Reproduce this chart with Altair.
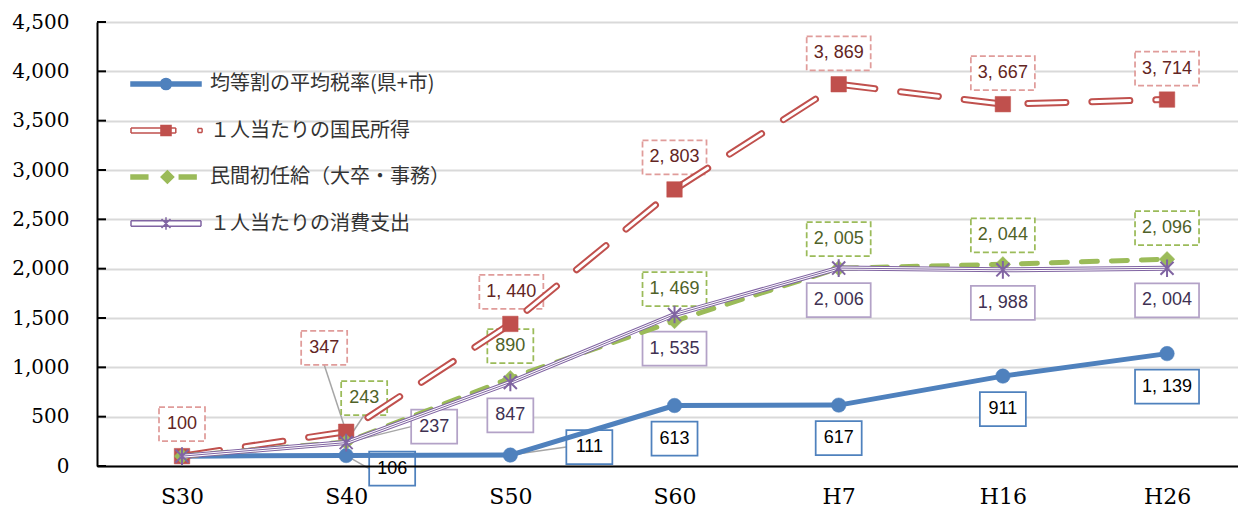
import altair as alt
import pandas as pd

# ---- data (index, S30 = 100) ----
categories = ["S30", "S40", "S50", "S60", "H7", "H16", "H26"]
series_names = [
    "均等割の平均税率(県+市)",
    "１人当たりの国民所得",
    "民間初任給（大卒・事務）",
    "１人当たりの消費支出",
]
tax_rate = [100, 106, 111, 613, 617, 911, 1139]
national_income = [100, 347, 1440, 2803, 3869, 3667, 3714]
starting_salary = [100, 243, 890, 1469, 2005, 2044, 2096]
consumption = [100, 237, 847, 1535, 2006, 1988, 2004]
y_ticks = list(range(0, 4501, 500))

series_values = dict(zip(series_names, [tax_rate, national_income, starting_salary, consumption]))

# ---- label placement: pixel offset of each value box from its point (None = no label) ----
label_offsets = {
    series_names[0]: [None, (46, 13), (79, -8), (0, 33), (0, 33), (0, 33), (0, 33)],
    series_names[1]: [(0, -32), (-22, -84), (1, -32), (0, -32), (0, -31), (0, -31), (0, -31)],
    series_names[2]: [None, (18, -44), (0, -32), (0, -32), (0, -29), (0, -29), (0, -31)],
    series_names[3]: [None, (88, -16), (0, 33), (0, 34), (0, 32), (0, 33), (0, 32)],
}
# leader lines from a point to the edge of a displaced label
leader_ends = {
    series_names[0]: {1: (23, 13), 2: (56, -8)},
    series_names[1]: {1: (-22, -67)},
    series_names[2]: {1: (18, -27)},
    series_names[3]: {1: (65, -16)},
}

# ---- styles ----
BLUE, RED, GREEN, PURPLE = "#4f81bd", "#c0504d", "#9bbb59", "#8064a2"
ASTERISK = "M-1,-1L1,1M-1,1L1,-1M0,-1.35V1.35"
styles = {
    series_names[0]: dict(
        lines=[(BLUE, 5, None)],
        marker=dict(shape="circle", size=210, filled=True, color=BLUE),
        box_stroke=BLUE, box_dash=None, text_color="#000000"),
    series_names[1]: dict(
        lines=[(RED, 7, [38, 26]), ("#ffffff", 3, [38, 26])],
        marker=dict(shape="square", size=240, filled=True, color=RED),
        box_stroke="#e09c9a", box_dash=[6, 3], text_color="#632523"),
    series_names[2]: dict(
        lines=[(GREEN, 5, [16, 14])],
        marker=dict(shape="diamond", size=240, filled=True, color=GREEN),
        box_stroke=GREEN, box_dash=[6, 3], text_color="#4f6228"),
    series_names[3]: dict(
        lines=[(PURPLE, 5, None), ("#ffffff", 3, None), (PURPLE, 1, None)],
        marker=dict(shape=ASTERISK, size=170, filled=False, color=PURPLE),
        box_stroke="#b3a2c7", box_dash=None, text_color="#403152"),
}

# legend glyphs: line sample plus marker, in units of half the symbol size
legend_paths = [
    "M-2.5,-0.15H2.5V0.15H-2.5Z M0.4,0A0.4,0.4 0 1 1 -0.4,0A0.4,0.4 0 1 1 0.4,0Z",
    "M-2.5,-0.17H0.7M-2.5,0.17H0.7M-2.5,-0.17V0.17M0.7,-0.17V0.17"
    "M-0.36,-0.36H0.36V0.36H-0.36Z"
    "M2.28,-0.14H2.58M2.28,0.14H2.58M2.28,-0.14V0.14M2.58,-0.14V0.14",
    "M-2.5,-0.15H-1.3V0.15H-2.5Z M0.1,-0.45L0.55,0L0.1,0.45L-0.35,0Z M0.95,-0.15H2.15V0.15H0.95Z",
    "M-2.5,-0.19H2.5M-2.5,0.19H2.5M-2.5,-0.19V0.19M2.5,-0.19V0.19"
    "M-0.32,-0.32L0.32,0.32M-0.32,0.32L0.32,-0.32M0,-0.45V0.45",
]

# ---- long table ----
rows = []
for s in series_names:
    for i, c in enumerate(categories):
        v = series_values[s][i]
        off = label_offsets[s][i]
        dx, dy = off if off else (0, 0)
        text = f"{v:,}".replace(",", ", ")
        hw = 23 if len(text) <= 3 else 32
        end = leader_ends[s].get(i)
        rows.append(dict(
            series=s, cat=c, value=v,
            shown=off is not None,
            dx=dx, dy=dy,
            label=text,
            box=f"M{dx - hw},{dy - 17}H{dx + hw}V{dy + 17}H{dx - hw}Z",
            leader=f"M0,0L{end[0]},{end[1]}" if end else "",
        ))
df = pd.DataFrame(rows)

# ---- encodings ----
x_enc = alt.X(
    "cat:N", sort=categories, title=None,
    scale=alt.Scale(type="point", padding=0.475, align=0.545),
    axis=alt.Axis(labelFont="DejaVu Serif", labelFontSize=22, labelColor="#000000",
                  labelPadding=20, ticks=False, tickSize=0, domainColor="#000000",
                  domainWidth=2, labelAngle=0, zindex=1),
)
y_enc = alt.Y(
    "value:Q", title=None,
    scale=alt.Scale(domain=[0, 4500], nice=False, zero=True),
    axis=alt.Axis(values=y_ticks, format=",d", labelFont="DejaVu Serif", labelFontSize=20,
                  labelColor="#000000", labelPadding=28, ticks=False, tickSize=0,
                  domainColor="#000000", domainWidth=2, gridColor="#d9d9d9", gridWidth=2),
)

layers = []

# inward tick marks on the value axis
tick_df = pd.DataFrame({"value": y_ticks})
layers.append(
    alt.Chart(tick_df).mark_rule(color="#000000", strokeWidth=2)
    .encode(y=y_enc, x=alt.value(0), x2=alt.value(9))
)

# legend built from the series colours and glyphs (its points are invisible)
legend = alt.Legend(
    title=None, orient="none", legendX=54, legendY=47, padding=0,
    labelFont="Noto Sans CJK JP", labelFontSize=20, labelColor="#333333", labelLimit=500,
    symbolSize=784, symbolStrokeWidth=1.5, rowPadding=21.5, labelOffset=29,
    symbolFillColor="#000000", symbolOpacity=1,
)
colors = [BLUE, RED, GREEN, PURPLE]
layers.append(
    alt.Chart(df).mark_point(opacity=0, filled=True).encode(
        x=x_enc, y=y_enc,
        fill=alt.Fill("series:N", scale=alt.Scale(domain=series_names, range=colors), legend=legend),
        stroke=alt.Stroke("series:N", scale=alt.Scale(domain=series_names, range=colors), legend=legend),
        shape=alt.Shape("series:N", scale=alt.Scale(domain=series_names, range=legend_paths), legend=legend),
    )
)

# leader lines, label boxes and value labels (the series lines run over them)
for s in series_names:
    st = styles[s]
    sub = df[(df.series == s) & df.shown]
    lead = df[(df.series == s) & (df.leader != "")]
    if len(lead):
        layers.append(
            alt.Chart(lead).mark_point(size=4, filled=False, stroke="#a6a6a6", strokeWidth=1.5, opacity=1)
            .encode(x=x_enc, y=y_enc, shape=alt.Shape("leader:N", scale=None, legend=None))
        )
    bkw = dict(size=4, filled=False, fill="#ffffff", fillOpacity=1, stroke=st["box_stroke"],
               strokeWidth=1.75, opacity=1)
    if st["box_dash"]:
        bkw["strokeDash"] = st["box_dash"]
    layers.append(
        alt.Chart(sub).mark_point(**bkw)
        .encode(x=x_enc, y=y_enc, shape=alt.Shape("box:N", scale=None, legend=None))
    )
    layers.append(
        alt.Chart(sub).mark_text(font="Liberation Sans", fontSize=18, color=st["text_color"],
                                 align="center", baseline="middle",
                                 dx={"expr": "datum.dx"}, dy={"expr": "datum.dy"})
        .encode(x=x_enc, y=y_enc, text="label:N")
    )

# series lines and markers, drawn in series order
for s in series_names:
    st = styles[s]
    sub = df[df.series == s]
    for color, width, dash in st["lines"]:
        kw = dict(color=color, strokeWidth=width, strokeCap="round", strokeJoin="round")
        if dash:
            kw["strokeDash"] = dash
        layers.append(alt.Chart(sub).mark_line(**kw).encode(x=x_enc, y=y_enc))
    m = st["marker"]
    if m["filled"]:
        mk = alt.Chart(sub).mark_point(shape=m["shape"], size=m["size"], filled=True,
                                       fill=m["color"], stroke=m["color"], strokeWidth=0.5,
                                       opacity=1)
    else:
        mk = alt.Chart(sub).mark_point(shape=m["shape"], size=m["size"], filled=False,
                                       stroke=m["color"], strokeWidth=2, opacity=1)
    layers.append(mk.encode(x=x_enc, y=y_enc))

chart = (
    alt.layer(*layers)
    .properties(
        width=1141, height=444,
        autosize=alt.AutoSizeParams(type="none"),
        padding={"left": 97, "top": 22, "right": 0, "bottom": 43},
        background="#ffffff",
    )
    .configure_view(stroke=None)
)

chart.save("out.html", embed_options={"renderer": "svg", "actions": False})
